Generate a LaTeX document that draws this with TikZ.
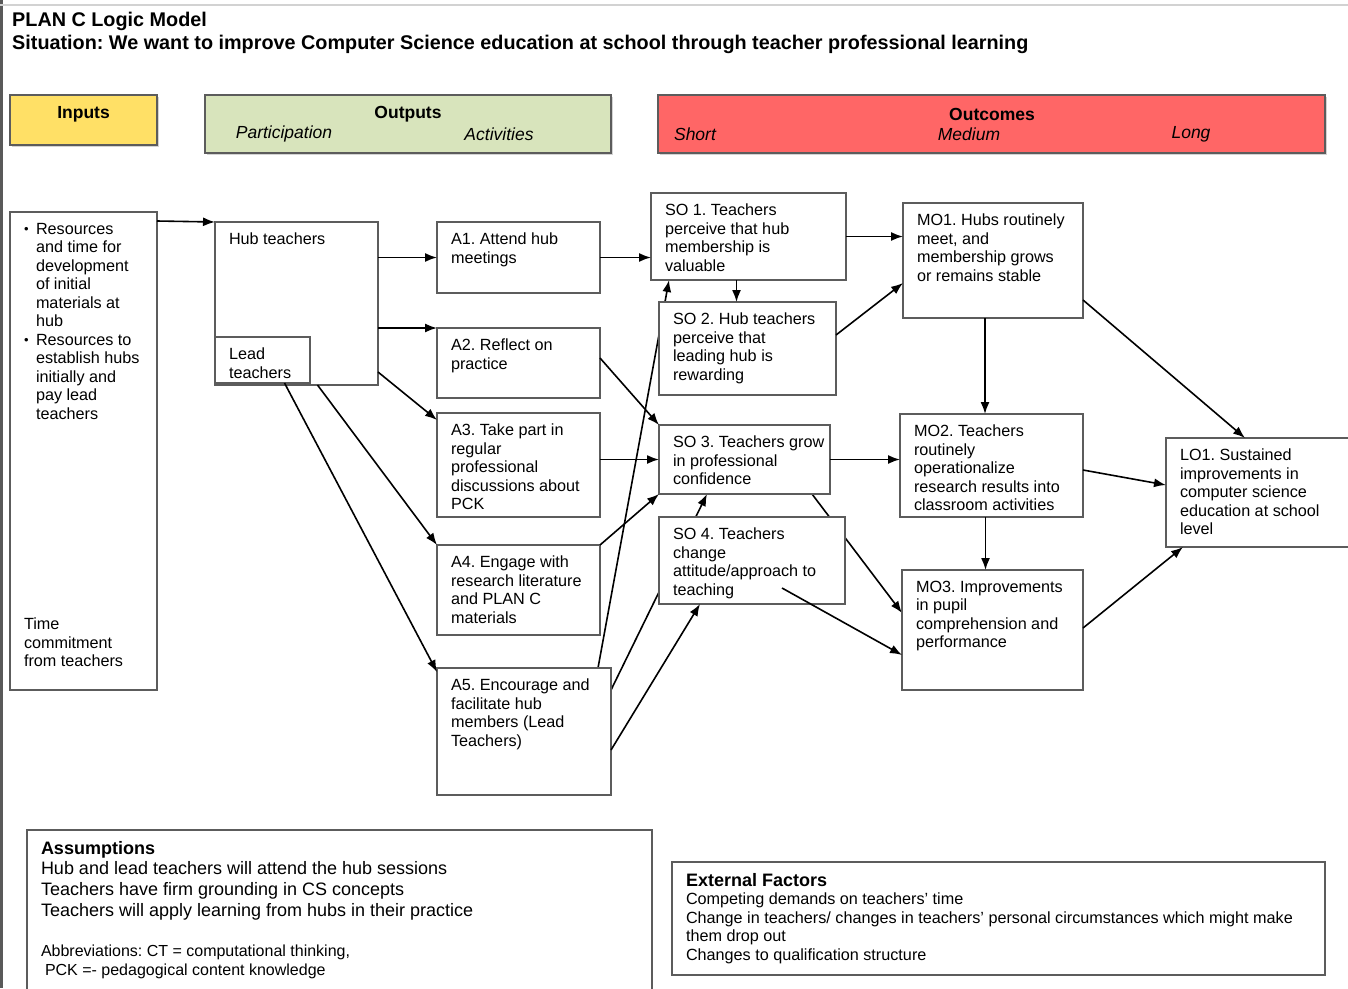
\documentclass[tikz,border=0pt]{standalone}
\usepackage{fontspec}
\setmainfont{Liberation Sans}
\usetikzlibrary{arrows.meta, backgrounds, shadows}

\definecolor{hdYellow}{HTML}{FFE066}
\definecolor{hdGreen}{HTML}{D8E4BC}
\definecolor{hdRed}{HTML}{FF6666}
\definecolor{boxGray}{HTML}{5C5C5C}

\newcommand{\bodyfont}{\fontsize{16.2}{18.5}\selectfont}
\newcommand{\hdfont}{\fontsize{17.5}{20}\selectfont}
\newcommand{\bul}{\makebox[12pt][l]{\raisebox{0.5pt}{\fontsize{13}{13}\selectfont\textbullet}}}

\begin{document}
\frenchspacing
\begin{tikzpicture}[x=1pt, y=-1pt,
	blk/.style={draw=boxGray, line width=1.4pt, fill=white, anchor=north west, outer sep=0pt, inner xsep=14pt, inner ysep=11pt, font=\bodyfont},
	hd/.style={draw=boxGray, line width=1.2pt, anchor=north west, outer sep=0pt, inner sep=0pt, drop shadow={shadow xshift=1.5pt, shadow yshift=-1.5pt, opacity=.35}},
	lbl/.style={inner sep=0pt, font=\hdfont},
	arr/.style={-{Latex[length=12pt,width=9pt]}, line width=1.6pt}]
	\useasboundingbox (0,0) rectangle (1348,988);
	% frame of the page
	\fill[gray!70!black] (0,0) rectangle (3,988);
	\draw[gray!35, line width=2pt] (0,5) -- (1348,5);

	\node[anchor=west, inner sep=0pt, font=\fontsize{19.8}{22}\selectfont\bfseries] (title) at (12,21) {PLAN C Logic Model};
	\node[anchor=west, inner sep=0pt, font=\fontsize{19.8}{22}\selectfont\bfseries] (situation) at (12,44) {Situation: We want to improve Computer Science education at school through teacher professional learning};

	% headers
	\node[hd, fill=hdYellow, minimum width=147, minimum height=50] (hIn) at (10,95) {};
	\node[hd, fill=hdGreen, minimum width=406, minimum height=58] (hOut) at (205,95) {};
	\node[hd, fill=hdRed, minimum width=667, minimum height=58] (hOc) at (658,95) {};
	\node[lbl, font=\hdfont\bfseries] (tIn) at ([yshift=-19pt]hIn.north) {Inputs};
	\node[lbl, font=\hdfont\bfseries] (tOut) at ([yshift=-19pt]hOut.north) {Outputs};
	\node[lbl, font=\hdfont\bfseries] (tOc) at (992,114) {Outcomes};
	\foreach \xx/\nm/\txt in {284/part/Participation, 499/act/Activities, 695/short/Short, 969/medium/Medium, 1191/long/Long}{
		\node[lbl, font=\hdfont\itshape] (\nm) at (\xx,134) {\txt};
	}

	% inputs
	\node[blk] (inputs) at (10,212) {\parbox[c][\dimexpr478pt-22pt][s]{\dimexpr147pt-28pt}{%
		\hangindent=12pt\hangafter=1 \bul Resources\newline and time for\newline development\newline of initial\newline materials at\newline hub\par
		\hangindent=12pt\hangafter=1 \bul Resources to\newline establish hubs\newline initially and\newline pay lead\newline teachers\par
		\vfill
		Time\newline commitment\newline from teachers\par
		\vspace*{12pt}}};

	% participation, activities and outcomes
	\foreach \nm/\xx/\yy/\ww/\hh/\txt in {
		hub/215/222/163/163/{Hub teachers},
		lead/215/337/95/46/{Lead\\teachers},
		a1/437/222/163/71/{A1. Attend hub\\meetings},
		a2/437/328/163/70/{A2. Reflect on\\practice},
		a3/437/413/163/104/{A3. Take part in\\regular\\professional\\discussions about\\PCK},
		a4/437/545/163/90/{A4. Engage with\\research literature\\and PLAN C\\materials},
		a5/437/668/174/127/{A5. Encourage and\\facilitate hub\\members (Lead\\Teachers)},
		so1/651/193/195/87/{SO 1. Teachers\\perceive that hub\\membership is\\valuable},
		so2/659/302/177/93/{SO 2. Hub teachers\\perceive that\\leading hub is\\rewarding},
		so3/659/425/171/69/{\mbox{SO 3. Teachers grow}\\in professional\\confidence},
		so4/659/517/186/87/{SO 4. Teachers\\change\\attitude/approach to\\teaching},
		mo1/903/203/180/115/{MO1. Hubs routinely\\meet, and\\membership grows\\or remains stable},
		mo2/900/414/183/103/{MO2. Teachers\\routinely\\operationalize\\research results into\\classroom activities},
		mo3/902/570/181/120/{MO3. Improvements\\in pupil\\comprehension and\\performance},
		lo1/1166/438/189/109/{LO1. Sustained\\improvements in\\computer science\\education at school\\level}
	}{
		\node[blk] (\nm) at (\xx,\yy) {\parbox[c][\dimexpr\hh pt-22pt][t]{\dimexpr\ww pt-28pt}{\txt}};
	}

	% assumptions and external factors
	\node[blk] (assum) at (27,830) {\parbox[c][\dimexpr170pt-22pt][t]{\dimexpr625pt-28pt}{%
		\fontsize{18}{20.7}\selectfont\textbf{Assumptions}\\
		Hub and lead teachers will attend the hub sessions\\
		Teachers have firm grounding in CS concepts\\
		Teachers will apply learning from hubs in their practice\par
		\vspace{21pt}
		\fontsize{16}{19}\selectfont Abbreviations: CT = computational thinking,\\
		\hspace*{4pt}PCK =- pedagogical content knowledge}};
	\node[blk] (ext) at (672,862) {\parbox[c][\dimexpr113pt-22pt][t]{\dimexpr653pt-28pt}{%
		{\fontsize{18}{20}\selectfont\textbf{External Factors}\par}
		Competing demands on teachers' time\\
		Change in teachers/ changes in teachers' personal circumstances which might make\\
		them drop out\\
		Changes to qualification structure}};

	% arrows
	\draw[arr] ([yshift=-9pt]inputs.north east) -- (hub.north west);
	\draw[arr] (hub.east |- a1.west) -- (a1.west);
	\draw[arr] (hub.east |- a2.north west) -- (a2.north west);
	\draw[arr] ([yshift=13pt]hub.south east) -- ([yshift=-7pt]a3.north west);
	\draw[arr] ([xshift=21pt]hub.south) -- (a4.north west);
	\draw[arr] ([xshift=22pt]lead.south) -- ([yshift=-4pt]a5.north west);
	\draw[arr] (a1.east) -- (a1.east -| so1.west);
	\draw[arr] ([yshift=5pt]a2.east) -- (so3.north west);
	\draw[arr] (a3.east |- so3.west) -- (so3.west);
	\draw[arr] (a4.north east) -- (so3.south west);
	\draw[arr] ([yshift=-82pt]a5.north east) -- ([xshift=41pt]so4.south west);
	\draw[arr] ([xshift=-12pt]so1.south) -- ([xshift=-12pt]so1.south |- so2.north);
	\draw[arr] (so1.east) -- (so1.east -| mo1.west);
	\draw[arr] ([yshift=-33pt]so2.north east) -- ([yshift=35pt]mo1.south west);
	\draw[arr] (so3.east) -- (so3.east -| mo2.west);
	\coordinate (so4tail) at ([xshift=-63pt, yshift=16pt]so4.south east);
	\draw[arr] (so4tail) -- ([yshift=-85pt]mo3.north west);
	\draw[arr] ([xshift=-8pt]mo1.south) -- ([xshift=-8pt]mo1.south |- mo2.north);
	\draw[arr] ([yshift=18pt]mo1.south east) -- ([xshift=79pt]lo1.north west);
	\draw[arr] ([yshift=-56pt]mo2.north east) -- ([yshift=-47pt]lo1.north west);
	\draw[arr] ([xshift=-6pt]mo2.south) -- ([xshift=-6pt]mo2.south |- mo3.north);
	\draw[arr] ([yshift=-58pt]mo3.north east) -- ([xshift=17pt]lo1.south west);
	% these run behind the boxes
	\begin{scope}[on background layer]
		\draw[arr] ([xshift=-13pt]a5.north east) -- ([xshift=18pt]so1.south west);
		\draw[arr] ([yshift=-22pt]a5.north east) -- ([xshift=48pt]so3.south west);
		\draw[arr] ([xshift=-18pt]so3.south east) -- ([yshift=-43pt]mo3.north west);
	\end{scope}
\end{tikzpicture}
\end{document}
